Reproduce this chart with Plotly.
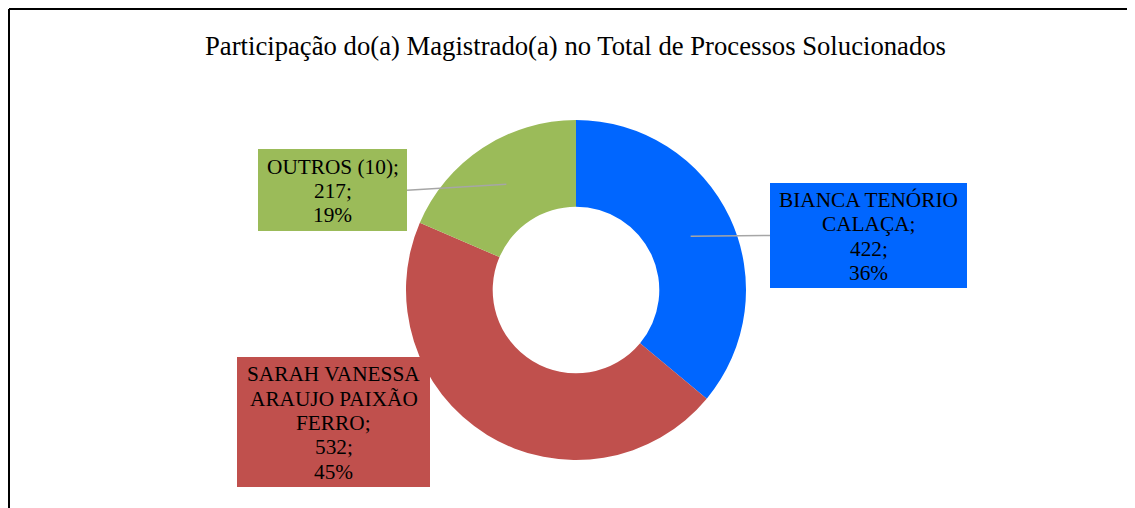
import math
import plotly.graph_objects as go

# ---- data ----
names = [["BIANCA TENÓRIO", "CALAÇA"], ["SARAH VANESSA", "ARAUJO PAIXÃO", "FERRO"], ["OUTROS (10)"]]
values = [422, 532, 217]
colors = ["#0066FF", "#C0504D", "#9BBB59"]
title_text = "Participação do(a) Magistrado(a) no Total de Processos Solucionados"

# ---- layout constants (pixels, figure coordinates) ----
W, H = 1135, 508
OFF = 8  # page body margin
cx, cy, R = 576 - OFF, 290 - OFF, 170
hole = 0.49
# label boxes: center x, center y, width, height (pixels)
boxes = [(868.5 - OFF, 235.5 - OFF, 197, 105),
         (333.5 - OFF, 422 - OFF, 193, 130),
         (332.5 - OFF, 190 - OFF, 149, 82)]
show_leader = [True, False, True]
LS = 24.4  # label line spacing
FONT = "Liberation Serif"


def px(x):
    return x / W


def py(y):
    return 1 - y / H


total = sum(values)
fig = go.Figure()
fig.add_trace(go.Pie(
    labels=[" ".join(n) for n in names],
    values=values,
    marker=dict(colors=colors, line=dict(width=0)),
    hole=hole,
    sort=False,
    direction="clockwise",
    rotation=0,
    textinfo="none",
    showlegend=False,
    domain=dict(x=[px(cx - R), px(cx + R)], y=[py(cy + R), py(cy - R)]),
))

annotations = [dict(
    text=title_text, xref="paper", yref="paper", x=px(575 - OFF), y=py(46 - OFF),
    xanchor="center", yanchor="middle", showarrow=False,
    font=dict(family=FONT, size=26.7, color="black"),
)]
shapes = []

cum = 0
rmid = R * (1 + hole) / 2
for i, (n, v) in enumerate(zip(names, values)):
    pct = round(100 * v / total)
    bx, by, bw, bh = boxes[i]
    n_lines = list(n)
    n_lines[-1] = n_lines[-1] + ";"
    lines = n_lines + [f"{v};", f"{pct}%"]
    shapes.append(dict(type="rect", xref="paper", yref="paper",
                       x0=px(bx - bw / 2), x1=px(bx + bw / 2),
                       y0=py(by + bh / 2), y1=py(by - bh / 2),
                       fillcolor=colors[i], line=dict(width=0), layer="above"))
    k0 = (len(lines) - 1) / 2
    for k, t in enumerate(lines):
        annotations.append(dict(
            text=t, xref="paper", yref="paper",
            x=px(bx), y=py(by + (k - k0) * LS + 1), xanchor="center", yanchor="middle",
            showarrow=False,
            font=dict(family=FONT, size=21.3, color="black"),
        ))
    mid = (cum + v / 2) / total * 2 * math.pi
    cum += v
    if show_leader[i]:
        sx = cx + rmid * math.sin(mid)
        sy = cy - rmid * math.cos(mid)
        ex = bx - bw / 2 if sx < bx else bx + bw / 2
        shapes.append(dict(type="line", xref="paper", yref="paper",
                           x0=px(sx), y0=py(sy), x1=px(ex), y1=py(by if i != 2 else sy + 6),
                           line=dict(color="#A6A6A6", width=1.5)))

# outer chart border (only left & top edges are visible)
shapes.append(dict(type="line", xref="paper", yref="paper",
                   x0=px(1), x1=px(1), y0=0, y1=py(1),
                   line=dict(color="black", width=2)))
shapes.append(dict(type="line", xref="paper", yref="paper",
                   x0=px(1), x1=1, y0=py(1), y1=py(1),
                   line=dict(color="black", width=2)))

fig.update_layout(
    width=W, height=H,
    margin=dict(l=0, r=0, t=0, b=0),
    paper_bgcolor="white", plot_bgcolor="white",
    annotations=annotations, shapes=shapes,
)
fig.write_html("out.html")
